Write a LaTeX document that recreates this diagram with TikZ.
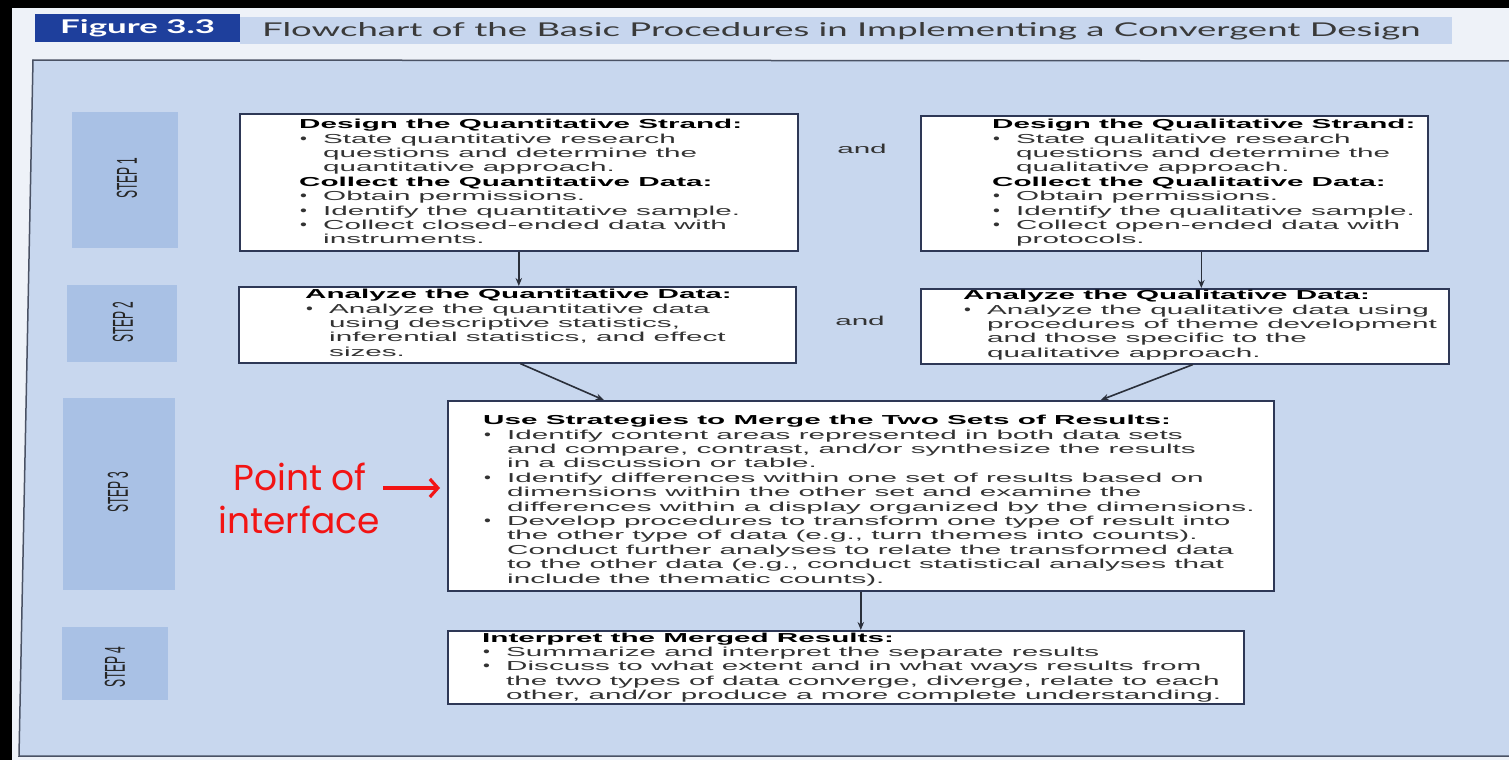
\documentclass[tikz,border=0pt]{standalone}
\usepackage{fontspec}
\setmainfont{Liberation Sans}
\newfontfamily\bookfont[FakeStretch=2.28]{Liberation Sans}
\newfontfamily\plainsans{Liberation Sans}
\newfontfamily\capfont{Lato}
\newfontfamily\notefont{Poppins}
\usetikzlibrary{arrows.meta}

\definecolor{pagebg}{HTML}{EEF2F8}
\definecolor{panelbg}{HTML}{C8D7EE}
\definecolor{panelline}{HTML}{4A5264}
\definecolor{stepbg}{HTML}{A9C1E5}
\definecolor{stripbg}{HTML}{C7D6EE}
\definecolor{figblue}{HTML}{1E3F9C}
\definecolor{boxline}{HTML}{2E3856}
\definecolor{bodytext}{HTML}{333333}
\definecolor{titletext}{HTML}{3A3A3A}
\definecolor{linkgray}{HTML}{2A2F3A}
\definecolor{notered}{HTML}{F21414}

% bullet column of the list lines
\newlength\bulw
\setlength\bulw{24pt}
\newcommand\bul{\makebox[\bulw][l]{\hspace{1pt}\smash{\scalebox{1.4}[1]{\plainsans\fontsize{14}{14}\selectfont\textbullet}}}}
\newcommand\ind{\hspace*{\bulw}}
\newcommand\hd[1]{{\color{black}\bfseries #1}}

\tikzset{
  boxtext/.style={anchor=north west, inner sep=0pt, align=left, text=bodytext,
    font=\bookfont\fontsize{13}{14.4}\selectfont},
  flowbox/.style={draw=boxline, line width=1.6pt, fill=white, anchor=north west,
    inner sep=0pt},
  stepbox/.style={fill=stepbg, inner sep=0pt},
  steptext/.style={rotate=90, inner sep=0pt, text=black!85,
    font=\plainsans\fontsize{12}{12}\selectfont},
  link/.style={draw=linkgray, line width=1.6pt, -{Stealth[length=8pt,width=6.5pt]}},
  andtext/.style={inner sep=0pt, text=bodytext, font=\bookfont\fontsize{13}{14}\selectfont},
  notetext/.style={anchor=base, inner sep=0pt, text=notered,
    font=\notefont\fontsize{36}{44}\selectfont},
  notearrow/.style={draw=notered, line width=3.2pt, -{Straight Barb[length=8pt,width=18pt]}},
}

\begin{document}
\begin{tikzpicture}[x=1pt,y=-1pt]
\useasboundingbox (0,0) rectangle (1509,760);
\fill[pagebg] (0,0) rectangle (1509,760);
\fill[black] (0,0) rectangle (1509,8);
\fill[black] (0,0) rectangle (12,760);

% heading strip
\fill[stripbg] (240,17) rectangle (1452,44);
\node[fill=figblue, anchor=north west, minimum width=205, minimum height=28,
  inner sep=0pt, text=white] (fig) at (35,14)
  {\resizebox{155pt}{14pt}{\capfont\bfseries Figure 3.3}};
\node[anchor=west, inner sep=0pt, text=titletext] (ttl) at (262,31)
  {\resizebox{1158pt}{14pt}{\capfont Flowchart of the Basic Procedures in Implementing a Convergent Design}};

% figure panel
\fill[panelbg] (33,60) -- (1509,61) -- (1509,756) -- (19,756) -- cycle;
\draw[panelline, line width=1.5pt] (1509,61) -- (33,60) -- (19,756) -- (1509,756);

% step bands
\node[stepbox, minimum width=106, minimum height=136] (s1) at (125,180) {};
\node[stepbox, minimum width=110, minimum height=77] (s2) at (122,323.5) {};
\node[stepbox, minimum width=112, minimum height=192] (s3) at (119,494) {};
\node[stepbox, minimum width=106, minimum height=73] (s4) at (115,663.5) {};
\node[steptext] (s1t) at (127,178) {\scalebox{1}[2.4]{STEP 1}};
\node[steptext] (s2t) at (123,322) {\scalebox{1}[2.4]{STEP 2}};
\node[steptext] (s3t) at (118,492) {\scalebox{1}[2.4]{STEP 3}};
\node[steptext] (s4t) at (115,667) {\scalebox{1}[2.4]{STEP 4}};

% boxes
\node[flowbox, minimum width=558, minimum height=137] (qd) at (239,113) {};
\node[flowbox, minimum width=507, minimum height=135] (qld) at (920,115) {};
\node[flowbox, minimum width=557, minimum height=76] (qa) at (238,286) {};
\node[flowbox, minimum width=528, minimum height=75] (qla) at (920,288) {};
\node[flowbox, minimum width=826, minimum height=190] (mg) at (447,400) {};
\node[flowbox, minimum width=796, minimum height=73] (ip) at (447,630) {};

\node[andtext] (and1) at (862,149) {and};
\node[andtext] (and2) at (860,321) {and};

% box texts
\node[boxtext] (qdt) at (299,119) {\hd{Design the Quantitative Strand:}\\
\bul State quantitative research\\
\ind questions and determine the\\
\ind quantitative approach.\\
\hd{Collect the Quantitative Data:}\\
\bul Obtain permissions.\\
\bul Identify the quantitative sample.\\
\bul Collect closed-ended data with\\
\ind instruments.};

\node[boxtext] (qldt) at (992,119) {\hd{Design the Qualitative Strand:}\\
\bul State qualitative research\\
\ind questions and determine the\\
\ind qualitative approach.\\
\hd{Collect the Qualitative Data:}\\
\bul Obtain permissions.\\
\bul Identify the qualitative sample.\\
\bul Collect open-ended data with\\
\ind protocols.};

\node[boxtext] (qat) at (305,289) {\hd{Analyze the Quantitative Data:}\\
\bul Analyze the quantitative data\\
\ind using descriptive statistics,\\
\ind inferential statistics, and effect\\
\ind sizes.};

\node[boxtext] (qlat) at (963,290) {\hd{Analyze the Qualitative Data:}\\
\bul Analyze the qualitative data using\\
\ind procedures of theme development\\
\ind and those specific to the\\
\ind qualitative approach.};

\node[boxtext] (mgt) at (483,415) {\hd{Use Strategies to Merge the Two Sets of Results:}\\
\bul Identify content areas represented in both data sets\\
\ind and compare, contrast, and/or synthesize the results\\
\ind in a discussion or table.\\
\bul Identify differences within one set of results based on\\
\ind dimensions within the other set and examine the\\
\ind differences within a display organized by the dimensions.\\
\bul Develop procedures to transform one type of result into\\
\ind the other type of data (e.g., turn themes into counts).\\
\ind Conduct further analyses to relate the transformed data\\
\ind to the other data (e.g., conduct statistical analyses that\\
\ind include the thematic counts).};

\node[boxtext] (ipt) at (482,632.5) {\hd{Interpret the Merged Results:}\\
\bul Summarize and interpret the separate results\\
\bul Discuss to what extent and in what ways results from\\
\ind the two types of data converge, diverge, relate to each\\
\ind other, and/or produce a more complete understanding.};

% connectors
\coordinate (qlddrop) at ([xshift=27pt]qld.south);
\coordinate (qafrom) at ([xshift=3pt]qa.south);
\coordinate (qlafrom) at ([xshift=8pt]qla.south);
\coordinate (mgleft) at ([xshift=-257pt]mg.north);
\coordinate (mgright) at ([xshift=240pt]mg.north);
\draw[link] (qd.south) -- (qd.south |- qa.north);
\draw[link] (qlddrop) -- (qlddrop |- qla.north);
\draw[link] (qafrom) -- (mgleft);
\draw[link] (qlafrom) -- (mgright);
\draw[link] (mg.south) -- (mg.south |- ip.north);

% annotation
\node[notetext] (note1) at (300,490) {Point of};
\node[notetext] (note2) at (299,533) {interface};
\coordinate (ptr) at (383,488);
\draw[notearrow, shorten >=7pt] (ptr) -- (mg.west |- ptr);
\end{tikzpicture}
\end{document}
